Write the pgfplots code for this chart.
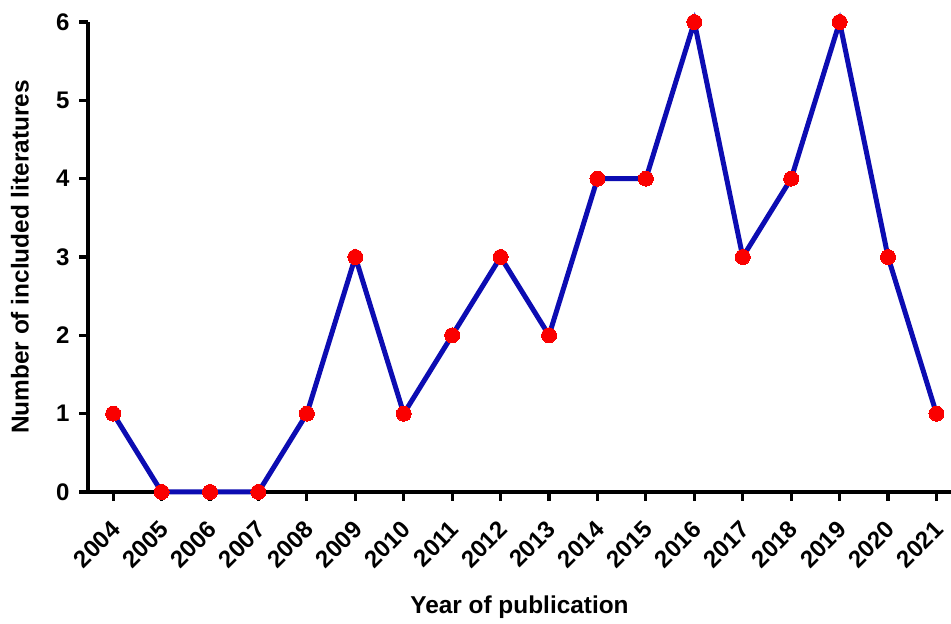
\documentclass[border=0pt]{standalone}
\usepackage{pgfplots}
\pgfplotsset{compat=1.18}
\usepackage{fontspec}
\setmainfont{Liberation Sans}
\usetikzlibrary{calc}
\definecolor{lineblue}{RGB}{12,12,178}
\definecolor{markred}{RGB}{250,0,0}

\begin{document}
\begin{tikzpicture}
  \begin{axis}[
      name=ax,
      scale only axis,
      width=863pt, height=470pt,
      xmin=2003.48, xmax=2021.3,
      ymin=0, ymax=6,
      axis x line=bottom,
      axis y line=left,
      axis line style={line width=3.2pt, -},
      every tick/.style={line width=3.2pt, black},
      tick align=outside,
      major tick length=9pt,
      xtick={2004,...,2021},
      ytick={0,...,6},
      /pgf/number format/assume math mode=true,
      /pgf/number format/1000 sep={},
      ticklabel style={font=\bfseries\fontsize{24}{28}\selectfont},
      xticklabel style={rotate=45, anchor=east, xshift=-12pt, yshift=-19pt},
      yticklabel style={xshift=-6pt},
      xlabel={Year of publication},
      ylabel={Number of included literatures},
      label style={font=\bfseries\fontsize{24.4}{28}\selectfont},
      xlabel style={at={(axis description cs:0.5,0)}, anchor=center, yshift=-115pt},
      ylabel style={at={(axis description cs:0,0.5)}, anchor=center, yshift=68pt},
      clip=false,
    ]
    % publications per year
    \addplot[lineblue, line width=5pt,
      mark=*, mark size=7.5pt,
      mark options={fill=markred, draw=markred, line width=0pt}]
    table {
      2004 1
      2005 0
      2006 0
      2007 0
      2008 1
      2009 3
      2010 1
      2011 2
      2012 3
      2013 2
      2014 4
      2015 4
      2016 6
      2017 3
      2018 4
      2019 6
      2020 3
      2021 1
    };
  \end{axis}
  \pgfresetboundingbox
  \path[use as bounding box] ($(ax.south west)+(-88pt,-132pt)$) rectangle ($(ax.north east)+(0pt,22pt)$);
\end{tikzpicture}
\end{document}
